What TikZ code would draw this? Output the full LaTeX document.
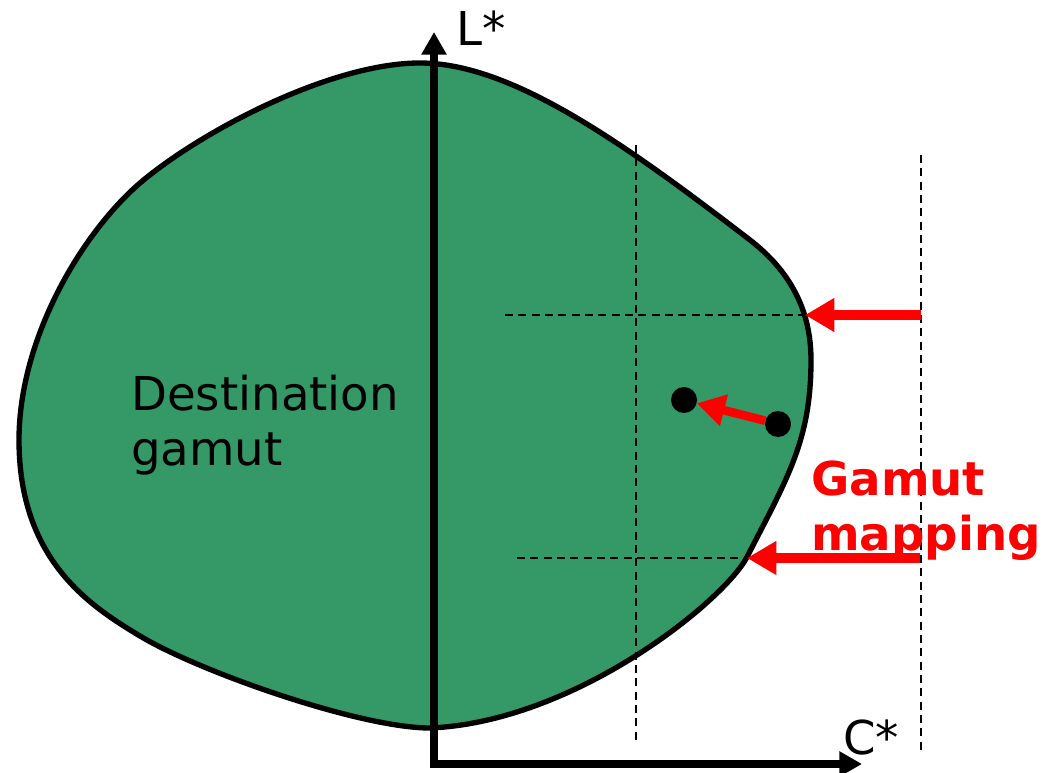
\documentclass[tikz,border=0pt]{standalone}
\usepackage{fontspec}
\setmainfont{DejaVu Sans}
\usetikzlibrary{arrows.meta}
\definecolor{gamutgreen}{RGB}{52,152,103}
\begin{document}
\begin{tikzpicture}[x=0.75pt,y=-0.75pt,
  outline/.style={line width=4pt},
  axis/.style={line width=6pt,-{Triangle[length=17pt,width=18pt]}},
  guide/.style={line width=1.1pt,dash pattern=on 6pt off 4pt},
  redarrow/.style={red,line width=7.5pt,-{Triangle[length=22pt,width=24pt]}},
  dot/.style={circle,fill=black,inner sep=0pt,minimum size=19.5pt},
  lbl/.style={font=\fontsize{35}{41}\selectfont,inner sep=0pt,anchor=base west,align=left},
  redlbl/.style={lbl,text=red,font=\fontsize{35}{41}\selectfont\bfseries}]
\useasboundingbox (0,0) rectangle (1052,773);
% gamut blob
\filldraw[fill=gamutgreen,outline]
 (420,63) .. controls (510,63) and (620,140) .. (750,240)
 .. controls (790,271) and (811,310) .. (811,360)
 .. controls (811,440) and (788,477) .. (747,557)
 .. controls (724,601) and (575,722) .. (430,728)
 .. controls (360,728) and (200,672) .. (140,636)
 .. controls (90,606) and (19,560) .. (19,440)
 .. controls (19,340) and (80,235) .. (140,183)
 .. controls (200,132) and (330,63) .. (420,63) -- cycle;
% guide lines
\coordinate (v1t) at (636,145); \coordinate (v1b) at (636,740);
\coordinate (v2t) at (921,155); \coordinate (v2b) at (921,750);
\coordinate (h1l) at (505,315); \coordinate (h1r) at (805,315);
\coordinate (h2l) at (517,558); \coordinate (h2r) at (747,558);
\draw[guide] (v1t) -- (v1b);
\draw[guide] (v2t) -- (v2b);
\draw[guide] (h1l) -- (h1r);
\draw[guide] (h2l) -- (h2r);
% axes
\coordinate (origin) at (434,764);
\coordinate (ltip) at (434,32);
\coordinate (ctip) at (862,764);
\draw[axis] (origin) -- (ltip);
\draw[axis] ([xshift=-3pt]origin) -- (ctip);
\node[lbl] (L) at (456,46) {L*};
\node[lbl] (C) at (843,754) {C*};
% points
\node[dot] (p1) at (684,400) {};
\node[dot] (p2) at (778,424) {};
\draw[red,line width=6.5pt,-{Triangle[length=21pt,width=23pt]}] (p2) -- (p1);
% red mapping arrows
\coordinate (a1s) at (921,315);
\coordinate (a2s) at (920,558);
\draw[redarrow] (a1s) -- (h1r);
\draw[redarrow] (a2s) -- (h2r);
% labels
\node[lbl] (dest) at (131,465) {Destination\\gamut};
\node[redlbl] (gm) at (811,550) {Gamut\\mapping};
\end{tikzpicture}
\end{document}
